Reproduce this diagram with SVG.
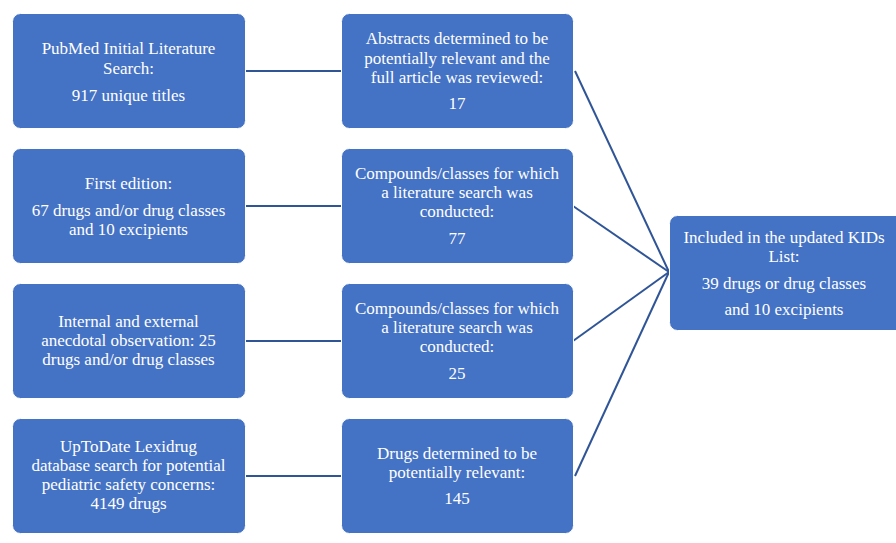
<svg xmlns="http://www.w3.org/2000/svg" width="896" height="543" viewBox="0 0 896 543">
<style>
.box{fill:#4472C4;stroke:#ffffff;stroke-width:1}
.t{font-size:17px;fill:#ffffff;text-anchor:middle}
.c{stroke:#2F5597;stroke-width:2;fill:none}
</style>
<rect width="896" height="543" fill="#ffffff"/>
<g id="connectors">
<line class="c" x1="245" y1="71" x2="341" y2="71"/>
<line class="c" x1="245" y1="206" x2="341" y2="206"/>
<line class="c" x1="245" y1="341" x2="341" y2="341"/>
<line class="c" x1="245" y1="476" x2="341" y2="476"/>
<line class="c" x1="575" y1="71" x2="669" y2="272"/>
<line class="c" x1="573" y1="206" x2="669" y2="272"/>
<line class="c" x1="573" y1="341" x2="669" y2="272"/>
<line class="c" x1="575" y1="476" x2="669" y2="272"/>
</g>
<g font-family="Liberation Serif, DejaVu Serif, serif">
<g id="n1">
<rect class="box" x="12.5" y="13.5" width="233" height="115" rx="8"/>
<text class="t" x="128.5" y="54">PubMed Initial Literature</text>
<text class="t" x="128.5" y="74">Search:</text>
<text class="t" x="128.5" y="101">917 unique titles</text>
</g>
<g id="n2">
<rect class="box" x="341.5" y="13.5" width="232" height="115" rx="8"/>
<text class="t" x="457" y="44">Abstracts determined to be</text>
<text class="t" x="457" y="64">potentially relevant and the</text>
<text class="t" x="457" y="83">full article was reviewed:</text>
<text class="t" x="457" y="109">17</text>
</g>
<g id="n3">
<rect class="box" x="12.5" y="148.5" width="233" height="115" rx="8"/>
<text class="t" x="128.5" y="189">First edition:</text>
<text class="t" x="128.5" y="216">67 drugs and/or drug classes</text>
<text class="t" x="128.5" y="235">and 10 excipients</text>
</g>
<g id="n4">
<rect class="box" x="341.5" y="148.5" width="232" height="115" rx="8"/>
<text class="t" x="457" y="179">Compounds/classes for which</text>
<text class="t" x="457" y="198">a literature search was</text>
<text class="t" x="457" y="217">conducted:</text>
<text class="t" x="457" y="244">77</text>
</g>
<g id="n5">
<rect class="box" x="12.5" y="283.5" width="233" height="115" rx="8"/>
<text class="t" x="128.5" y="327">Internal and external</text>
<text class="t" x="128.5" y="346">anecdotal observation: 25</text>
<text class="t" x="128.5" y="365">drugs and/or drug classes</text>
</g>
<g id="n6">
<rect class="box" x="341.5" y="283.5" width="232" height="115" rx="8"/>
<text class="t" x="457" y="314">Compounds/classes for which</text>
<text class="t" x="457" y="333">a literature search was</text>
<text class="t" x="457" y="352">conducted:</text>
<text class="t" x="457" y="379">25</text>
</g>
<g id="n7">
<rect class="box" x="12.5" y="418.5" width="233" height="115" rx="8"/>
<text class="t" x="128.5" y="452">UpToDate Lexidrug</text>
<text class="t" x="128.5" y="471">database search for potential</text>
<text class="t" x="128.5" y="490">pediatric safety concerns:</text>
<text class="t" x="128.5" y="509">4149 drugs</text>
</g>
<g id="n8">
<rect class="box" x="341.5" y="418.5" width="232" height="115" rx="8"/>
<text class="t" x="457" y="459">Drugs determined to be</text>
<text class="t" x="457" y="478">potentially relevant:</text>
<text class="t" x="457" y="504">145</text>
</g>
<g id="n9">
<rect class="box" x="669.5" y="215.5" width="236" height="115" rx="8"/>
<text class="t" x="784" y="243">Included in the updated KIDs</text>
<text class="t" x="784" y="262">List:</text>
<text class="t" x="784" y="289">39 drugs or drug classes</text>
<text class="t" x="784" y="315">and 10 excipients</text>
</g>
</g>
</svg>
